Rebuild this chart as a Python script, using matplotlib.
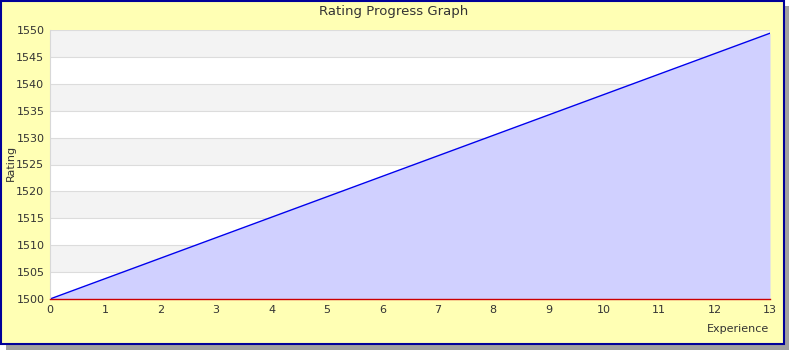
import matplotlib
matplotlib.use("Agg")
import matplotlib.pyplot as plt
from matplotlib.patches import Rectangle

experience = [0, 13]
rating = [1500, 1549.4]
xticks = list(range(0, 14))
yticks = list(range(1500, 1551, 5))

W, H = 790, 350
fig = plt.figure(figsize=(W / 100, H / 100), dpi=100)
fig.patch.set_facecolor("white")

def fx(px):
    return px / W

def fy(py):
    return 1 - py / H

# shadow
fig.patches.append(Rectangle((fx(6), fy(350)), fx(789) - fx(6), (fy(6) - fy(350)),
                             transform=fig.transFigure, facecolor="#a0a0a0", edgecolor="none", zorder=-10))
# frame
fig.patches.append(Rectangle((fx(1), fy(344)), fx(783), fy(1) - fy(344),
                             transform=fig.transFigure, facecolor="#ffffb4", edgecolor="#000099",
                             linewidth=1.5, zorder=-9))

ax = fig.add_axes([fx(50), fy(299), fx(770) - fx(50), fy(30) - fy(299)])
ax.set_zorder(1)
ax.set_facecolor("white")
ax.set_xlim(0, 13)
ax.set_ylim(1500, 1550)

for i, y0 in enumerate(range(1500, 1550, 5)):
    if i % 2 == 1:
        ax.axhspan(y0, y0 + 5, color="#f3f3f3", zorder=0, linewidth=0)
for y in yticks:
    ax.axhline(y, color="#dcdcdc", linewidth=0.8, zorder=0.5)

ax.fill_between(experience, rating, 1500, color="#d0d0ff", zorder=1, linewidth=0)
ax.plot(experience, rating, color="#0000ee", linewidth=1.0, zorder=2)

for s in ["top", "right"]:
    ax.spines[s].set_visible(False)
ax.spines["left"].set_color("#d8d8d8")
ax.spines["bottom"].set_color("#cc0000")
ax.spines["bottom"].set_linewidth(1.0)

ax.set_xticks(xticks)
ax.set_yticks(yticks)
ax.tick_params(length=0, labelsize=8, colors="#333333", pad=4)

fig.text(fx(394), fy(11), "Rating Progress Graph", ha="center", va="center", fontsize=9.5, color="#333333")
fig.text(fx(11), fy(163), "Rating", ha="center", va="center", rotation=90, fontsize=8, color="#333333")
fig.text(fx(769), fy(329), "Experience", ha="right", va="center", fontsize=8, color="#333333")

fig.savefig("out.png", dpi=100, facecolor=fig.get_facecolor())
